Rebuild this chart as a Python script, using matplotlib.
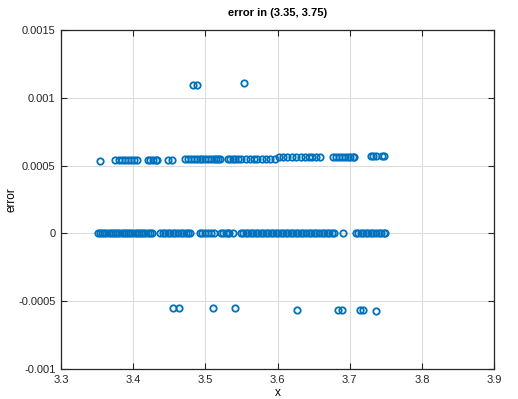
import matplotlib
matplotlib.use("Agg")
import matplotlib.pyplot as plt

plt.rcParams['font.family'] = ['Liberation Sans', 'DejaVu Sans']

# x values with zero error
zero_x = [3.351, 3.354, 3.357, 3.360, 3.363, 3.366, 3.369, 3.372, 3.375, 3.378,
          3.381, 3.384, 3.387, 3.390, 3.393, 3.396, 3.399, 3.402, 3.405, 3.408,
          3.411, 3.414, 3.417, 3.420, 3.423, 3.426,
          3.437, 3.441, 3.444, 3.448, 3.451, 3.455, 3.458, 3.462, 3.466, 3.469,
          3.473, 3.476, 3.479,
          3.492, 3.496, 3.500, 3.504, 3.508, 3.512,
          3.522, 3.525, 3.528, 3.531, 3.533,
          3.538,
          3.549, 3.552, 3.556, 3.559, 3.563, 3.566, 3.570, 3.573, 3.577, 3.580,
          3.584, 3.587, 3.591, 3.594, 3.598, 3.601, 3.605, 3.608, 3.612, 3.615,
          3.619, 3.622, 3.626, 3.629, 3.633, 3.636, 3.640, 3.643, 3.647, 3.650,
          3.654, 3.657, 3.661, 3.664, 3.668, 3.671, 3.675, 3.678,
          3.691,
          3.709, 3.712, 3.716, 3.719, 3.723, 3.726, 3.730, 3.733, 3.737, 3.740,
          3.744, 3.747, 3.749]

# upper band (~ +5.5e-4)
upper_x = [3.354,
           3.375, 3.380, 3.385, 3.389, 3.393, 3.397, 3.401, 3.405,
           3.420, 3.424, 3.428, 3.431, 3.433,
           3.448, 3.454,
           3.472, 3.476, 3.480, 3.484, 3.488, 3.492, 3.496, 3.500, 3.504, 3.508,
           3.512, 3.515, 3.518, 3.520,
           3.531, 3.534, 3.538, 3.541, 3.545, 3.550, 3.556, 3.562, 3.567, 3.572,
           3.578, 3.584, 3.590, 3.596,
           3.602, 3.608, 3.613, 3.620, 3.626, 3.632, 3.638, 3.643, 3.648, 3.653,
           3.659,
           3.677, 3.681, 3.685, 3.689, 3.693, 3.697, 3.701, 3.704, 3.706,
           3.729, 3.733, 3.737, 3.745, 3.748]
upper_y = ([5.35e-4] + [5.38e-4] * 8 + [5.40e-4] * 5 + [5.42e-4] * 2
           + [5.45e-4] * 14 + [5.50e-4] * 14 + [5.60e-4] * 11
           + [5.65e-4] * 9 + [5.70e-4] * 5)

# top outliers
top_x = [3.483, 3.488, 3.554]
top_y = [1.094e-3, 1.094e-3, 1.106e-3]

# lower band
low_x = [3.455, 3.464, 3.510, 3.541, 3.627, 3.684, 3.689, 3.714, 3.718, 3.736]
low_y = [-5.48e-4, -5.48e-4, -5.50e-4, -5.50e-4, -5.63e-4, -5.68e-4, -5.68e-4,
         -5.68e-4, -5.68e-4, -5.73e-4]

xs = zero_x + upper_x + top_x + low_x
ys = [0.0] * len(zero_x) + upper_y + top_y + low_y

fig = plt.figure(figsize=(5.18, 3.99), dpi=100)
ax = fig.add_axes([61 / 518, 30 / 399, 433 / 518, 339 / 399])
ax.plot(xs, ys, 'o', mfc='none', mec='#0072BD', ms=4.6, mew=1.3)

ax.set_xlim(3.3, 3.9)
ax.set_ylim(-0.001, 0.0015)
ax.set_xticks([3.3, 3.4, 3.5, 3.6, 3.7, 3.8, 3.9])
ax.set_xticklabels(['3.3', '3.4', '3.5', '3.6', '3.7', '3.8', '3.9'])
ax.set_yticks([-0.001, -0.0005, 0, 0.0005, 0.001, 0.0015])
ax.set_yticklabels(['-0.001', '-0.0005', '0', '0.0005', '0.001', '0.0015'])
ax.grid(True, color='#dcdcdc', lw=0.8)
ax.set_axisbelow(True)
ax.tick_params(direction='in', top=True, right=True, labelsize=8,
               length=4, colors='#262626', pad=4)
for s in ax.spines.values():
    s.set_color('#262626')
    s.set_linewidth(0.9)

ax.set_title('error in (3.35, 3.75)', fontsize=8, fontweight='bold', pad=10)
ax.set_xlabel('x', fontsize=8.5, labelpad=2)
ax.set_ylabel('error', fontsize=8.5)
ax.yaxis.set_label_coords(-0.1, 0.5)

fig.savefig('out.png', dpi=100)
